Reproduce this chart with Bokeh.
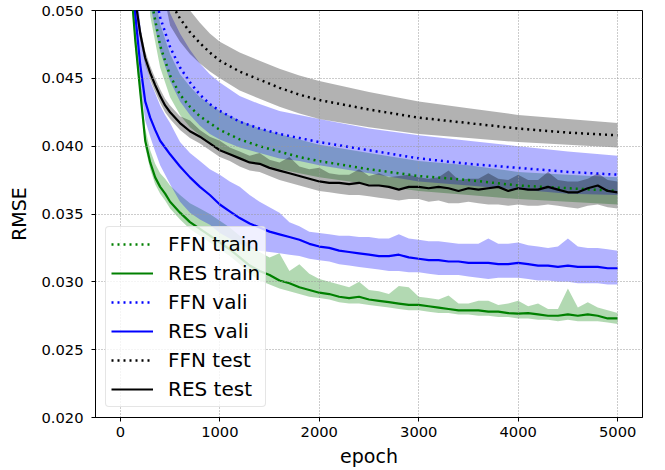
from bokeh.plotting import figure
from bokeh.models import Range1d, FixedTicker, PrintfTickFormatter
from bokeh.embed import file_html
from bokeh.resources import INLINE

FONT = "DejaVu Sans"

# ---------------- data ----------------
x_ticks = [0, 1000, 2000, 3000, 4000, 5000]
y_ticks = [0.020, 0.025, 0.030, 0.035, 0.040, 0.045, 0.050]

epochs_res = [0, 50, 100, 150, 200, 250, 300, 350, 400, 450, 500,
              600, 700, 800, 900, 1000, 1100, 1200, 1300, 1400, 1500,
              1600, 1700, 1800, 1900, 2000, 2100, 2200, 2300, 2400, 2500,
              2600, 2700, 2800, 2900, 3000, 3100, 3200, 3300, 3400, 3500,
              3600, 3700, 3800, 3900, 4000, 4100, 4200, 4300, 4400, 4500,
              4600, 4700, 4800, 4900, 5000]

epochs_ffn = [0, 100, 200, 300, 400, 500, 600, 700, 800, 900, 1000,
              1200, 1400, 1600, 1800, 2000, 2500, 3000, 3500, 4000, 4500, 5000]

res_train = [0.0900, 0.0650, 0.0525, 0.0478, 0.0440, 0.0404, 0.0388, 0.0377, 0.0370, 0.0365, 0.0359,
             0.0351, 0.0344, 0.0339, 0.0334, 0.0329, 0.0324, 0.0318, 0.0312, 0.0308, 0.0305,
             0.0301, 0.0299, 0.0296, 0.0294, 0.0292, 0.0291, 0.0289, 0.0288, 0.0289, 0.0287,
             0.0286, 0.0285, 0.0284, 0.0283, 0.0283, 0.0282, 0.0281, 0.0280, 0.0279, 0.0279,
             0.0279, 0.0278, 0.0278, 0.0277, 0.02765, 0.0277, 0.0276, 0.0275, 0.0275, 0.0276,
             0.0275, 0.0276, 0.0275, 0.0273, 0.0273]
res_train_hi = [0.0920, 0.0665, 0.0535, 0.0486, 0.0448, 0.0413, 0.0397, 0.0387, 0.0380, 0.0376, 0.0371,
                0.0364, 0.0358, 0.0354, 0.0350, 0.0345, 0.0340, 0.0334, 0.0327, 0.0322, 0.0318,
                0.0321, 0.0308, 0.0313, 0.0306, 0.0302, 0.0300, 0.0298, 0.0296, 0.0300, 0.0294,
                0.0293, 0.0291, 0.0297, 0.0296, 0.0289, 0.0288, 0.0287, 0.0290, 0.0284, 0.0284,
                0.0286, 0.0286, 0.0283, 0.0284, 0.0286, 0.0282, 0.0284, 0.0280, 0.0280, 0.0295,
                0.0281, 0.0285, 0.0281, 0.0279, 0.0277]
res_train_lo = [0.0885, 0.0640, 0.0518, 0.0472, 0.0435, 0.0399, 0.0383, 0.0372, 0.0365, 0.0360, 0.0354,
                0.0346, 0.0339, 0.0334, 0.0329, 0.0324, 0.0319, 0.0313, 0.0306, 0.0301, 0.0298,
                0.0295, 0.0293, 0.0291, 0.0289, 0.0288, 0.0287, 0.0285, 0.0284, 0.0284, 0.0283,
                0.0282, 0.0281, 0.0280, 0.0279, 0.0279, 0.0278, 0.0277, 0.0277, 0.0276, 0.0276,
                0.0275, 0.0275, 0.0274, 0.0274, 0.0273, 0.0273, 0.0272, 0.0272, 0.0271, 0.0272,
                0.0271, 0.0271, 0.0271, 0.0270, 0.0269]

res_vali = [0.0950, 0.0700, 0.0560, 0.0497, 0.0460, 0.0433, 0.0421, 0.0412, 0.0404, 0.0399, 0.0394,
            0.0385, 0.0377, 0.0370, 0.0364, 0.0357, 0.0352, 0.0347, 0.0343, 0.0340, 0.0337,
            0.0335, 0.0333, 0.0331, 0.0328, 0.0326, 0.0325, 0.0323, 0.0322, 0.0321, 0.0320,
            0.0319, 0.0319, 0.0320, 0.0318, 0.0317, 0.0316, 0.0316, 0.0315, 0.0315, 0.0314,
            0.0314, 0.0314, 0.0313, 0.0313, 0.0314, 0.0313, 0.0312, 0.0312, 0.0311, 0.0312,
            0.0311, 0.0311, 0.0311, 0.0310, 0.0310]
res_vali_hi = [0.0990, 0.0740, 0.0600, 0.0530, 0.0490, 0.0462, 0.0448, 0.0439, 0.0430, 0.0423, 0.0417,
               0.0403, 0.0395, 0.0389, 0.0383, 0.0379, 0.0374, 0.0370, 0.0364, 0.0359, 0.0355,
               0.0351, 0.0344, 0.0341, 0.0337, 0.0336, 0.0335, 0.0334, 0.0334, 0.0333, 0.0333,
               0.0332, 0.0332, 0.0335, 0.0332, 0.0331, 0.0330, 0.0330, 0.0329, 0.0328, 0.0328,
               0.0328, 0.0332, 0.0328, 0.0328, 0.0329, 0.0327, 0.0326, 0.0325, 0.0326, 0.0332,
               0.0326, 0.0325, 0.0325, 0.0324, 0.0323]
res_vali_lo = [0.0920, 0.0670, 0.0535, 0.0475, 0.0446, 0.0419, 0.0407, 0.0396, 0.0386, 0.0379, 0.0372,
               0.0359, 0.0351, 0.0346, 0.0342, 0.0336, 0.0332, 0.0328, 0.0325, 0.0323, 0.0322,
               0.0321, 0.0320, 0.0319, 0.0317, 0.0316, 0.0315, 0.0313, 0.0312, 0.0311, 0.0310,
               0.0309, 0.0308, 0.0308, 0.0307, 0.0307, 0.0306, 0.0305, 0.0305, 0.0305, 0.0304,
               0.0303, 0.0302, 0.0303, 0.0303, 0.0303, 0.0302, 0.0301, 0.0301, 0.0300, 0.0300,
               0.0299, 0.0299, 0.0299, 0.0298, 0.0298]

res_test = [0.0950, 0.0720, 0.0570, 0.0508, 0.0483, 0.0465, 0.0454, 0.0445, 0.0437, 0.0430, 0.0425,
            0.0417, 0.0411, 0.0407, 0.0402, 0.0397, 0.0394, 0.0391, 0.0388, 0.0387, 0.0384,
            0.0382, 0.0380, 0.0378, 0.0376, 0.0374, 0.0373, 0.0373, 0.0372, 0.0373, 0.0371,
            0.0371, 0.0370, 0.0368, 0.0370, 0.0370, 0.0369, 0.0370, 0.0369, 0.0367, 0.0369,
            0.0368, 0.0369, 0.0370, 0.0367, 0.0369, 0.0368, 0.0368, 0.0370, 0.0368, 0.0366,
            0.0366, 0.0369, 0.0371, 0.0367, 0.0366]
res_test_hi = [0.0960, 0.0730, 0.0578, 0.0513, 0.0488, 0.0470, 0.0459, 0.0450, 0.0442, 0.0435, 0.0430,
               0.0422, 0.0419, 0.0412, 0.0407, 0.0404, 0.0399, 0.0396, 0.0393, 0.0395, 0.0390,
               0.0388, 0.0392, 0.0385, 0.0383, 0.0384, 0.0380, 0.0379, 0.0379, 0.0383, 0.0378,
               0.0380, 0.0377, 0.0378, 0.0379, 0.0377, 0.0376, 0.0377, 0.0382, 0.0375, 0.0376,
               0.0376, 0.0380, 0.0376, 0.0375, 0.0379, 0.0375, 0.0375, 0.0381, 0.0375, 0.0374,
               0.0374, 0.0376, 0.0380, 0.0375, 0.0374]
res_test_lo = [0.0940, 0.0710, 0.0562, 0.0503, 0.0478, 0.0460, 0.0449, 0.0440, 0.0432, 0.0425, 0.0420,
               0.0412, 0.0406, 0.0402, 0.0397, 0.0392, 0.0389, 0.0385, 0.0382, 0.0381, 0.0378,
               0.0375, 0.0373, 0.0371, 0.0369, 0.0367, 0.0366, 0.0365, 0.0364, 0.0364, 0.0363,
               0.0362, 0.0361, 0.0360, 0.0361, 0.0361, 0.0359, 0.0360, 0.0358, 0.0358, 0.0359,
               0.0358, 0.0357, 0.0357, 0.0356, 0.0357, 0.0356, 0.0356, 0.0357, 0.0356, 0.0355,
               0.0354, 0.0356, 0.0357, 0.0355, 0.0354]

ffn_train = [0.110, 0.085, 0.066, 0.0512, 0.0474, 0.0452, 0.0438, 0.0429, 0.0422, 0.0417, 0.0412,
             0.0405, 0.0400, 0.0396, 0.0392, 0.0389, 0.0383, 0.0378, 0.0375, 0.0371, 0.0369, 0.0367]
ffn_train_hi = [0.112, 0.087, 0.0678, 0.0528, 0.0490, 0.0468, 0.0453, 0.0444, 0.0436, 0.0431, 0.0426,
                0.0419, 0.0413, 0.0409, 0.0405, 0.0401, 0.0395, 0.0389, 0.0386, 0.0381, 0.0379, 0.0377]
ffn_train_lo = [0.108, 0.083, 0.0642, 0.0496, 0.0458, 0.0436, 0.0423, 0.0414, 0.0408, 0.0403, 0.0398,
                0.0391, 0.0387, 0.0383, 0.0380, 0.0377, 0.0372, 0.0367, 0.0364, 0.0361, 0.0359, 0.0357]

ffn_vali = [0.110, 0.085, 0.066, 0.0530, 0.0495, 0.0473, 0.0458, 0.0447, 0.0438, 0.0431, 0.0426,
            0.0418, 0.0413, 0.0409, 0.0406, 0.0403, 0.0397, 0.0391, 0.0387, 0.0384, 0.0381, 0.0379]
ffn_vali_hi = [0.113, 0.088, 0.069, 0.0556, 0.0520, 0.0498, 0.0483, 0.0471, 0.0461, 0.0453, 0.0447,
               0.0437, 0.0431, 0.0426, 0.0423, 0.0420, 0.0413, 0.0408, 0.0404, 0.0400, 0.0396, 0.0393]
ffn_vali_lo = [0.107, 0.082, 0.063, 0.0504, 0.0470, 0.0448, 0.0433, 0.0423, 0.0415, 0.0409, 0.0405,
               0.0399, 0.0395, 0.0391, 0.0389, 0.0386, 0.0380, 0.0374, 0.0371, 0.0368, 0.0365, 0.0364]

ffn_test = [0.120, 0.095, 0.075, 0.062, 0.0545, 0.0507, 0.0494, 0.0484, 0.0476, 0.0469, 0.0463,
            0.0455, 0.0449, 0.0443, 0.0438, 0.0434, 0.0427, 0.0421, 0.0417, 0.0413, 0.0410, 0.0408]
ffn_test_hi = [0.122, 0.097, 0.077, 0.064, 0.0565, 0.0525, 0.0511, 0.0500, 0.0491, 0.0483, 0.0477,
               0.0469, 0.0463, 0.0457, 0.0452, 0.0448, 0.0440, 0.0433, 0.0428, 0.0423, 0.0420, 0.0417]
ffn_test_lo = [0.118, 0.093, 0.073, 0.060, 0.0525, 0.0489, 0.0477, 0.0468, 0.0461, 0.0455, 0.0450,
               0.0441, 0.0435, 0.0429, 0.0424, 0.0420, 0.0414, 0.0409, 0.0406, 0.0403, 0.0401, 0.0399]

GREEN, BLUE, BLACK = "#008000", "#0000ff", "#000000"

# ---------------- figure ----------------
p = figure(width=665, height=470,
           x_range=Range1d(-250, 5250), y_range=Range1d(0.020, 0.050),
           output_backend="svg", toolbar_location=None,
           min_border_left=95, min_border_right=23, min_border_top=10, min_border_bottom=53,
           x_axis_label="epoch", y_axis_label="RMSE")
p.background_fill_color = "white"
p.border_fill_color = "white"
p.outline_line_color = "black"
p.outline_line_width = 1

bands = [
    (epochs_ffn, ffn_train_lo, ffn_train_hi, GREEN),
    (epochs_res, res_train_lo, res_train_hi, GREEN),
    (epochs_ffn, ffn_vali_lo, ffn_vali_hi, BLUE),
    (epochs_res, res_vali_lo, res_vali_hi, BLUE),
    (epochs_ffn, ffn_test_lo, ffn_test_hi, BLACK),
    (epochs_res, res_test_lo, res_test_hi, BLACK),
]
for xs, lo, hi, col in bands:
    r = p.varea(x=xs, y1=lo, y2=hi, fill_color=col, fill_alpha=0.3)
    r.level = "underlay"

DOT = "2 4"
lines = [
    (epochs_ffn, ffn_train, GREEN, DOT, 2.5, "FFN train"),
    (epochs_res, res_train, GREEN, "solid", 2.2, "RES train"),
    (epochs_ffn, ffn_vali, BLUE, DOT, 2.5, "FFN vali"),
    (epochs_res, res_vali, BLUE, "solid", 2.2, "RES vali"),
    (epochs_ffn, ffn_test, BLACK, DOT, 2.5, "FFN test"),
    (epochs_res, res_test, BLACK, "solid", 2.2, "RES test"),
]
for xs, ys, col, dash, lw, lab in lines:
    p.line(x=xs, y=ys, line_color=col, line_width=lw, line_dash=dash, legend_label=lab)

# axes
p.xaxis.ticker = FixedTicker(ticks=x_ticks)
p.yaxis.ticker = FixedTicker(ticks=y_ticks)
p.xgrid.ticker = FixedTicker(ticks=x_ticks)
p.ygrid.ticker = FixedTicker(ticks=y_ticks)
p.yaxis.formatter = PrintfTickFormatter(format="%.3f")
for ax in p.axis:
    ax.axis_line_color = "black"
    ax.axis_line_width = 1
    ax.major_tick_line_color = "black"
    ax.major_tick_out = 4
    ax.major_tick_in = 0
    ax.minor_tick_line_color = None
    ax.major_label_text_font = FONT
    ax.major_label_text_font_size = "14.7px"
    ax.major_label_text_color = "black"
    ax.axis_label_text_font = FONT
    ax.axis_label_text_font_size = "19px"
    ax.axis_label_text_font_style = "normal"
    ax.axis_label_text_color = "black"
p.yaxis.major_label_standoff = 8
p.xaxis.major_label_standoff = 5
p.yaxis.axis_label_standoff = 8
p.xaxis.axis_label_standoff = 5

p.grid.grid_line_color = "#999999"
p.grid.grid_line_dash = "1 2"
p.grid.grid_line_width = 1
p.grid.level = "glyph"

# legend
lg = p.legend[0]
lg.location = "bottom_left"
lg.margin = 10
lg.padding = 5
lg.spacing = 5
lg.label_text_font = FONT
lg.label_text_font_size = "20px"
lg.label_text_color = "black"
lg.glyph_width = 42
lg.glyph_height = 20
lg.label_standoff = 15
lg.background_fill_alpha = 0.8
lg.border_line_color = "#cccccc"
lg.border_line_width = 1
if "border_radius" in lg.properties():
    lg.border_radius = 4

open("out.html", "w").write(file_html(p, INLINE))
